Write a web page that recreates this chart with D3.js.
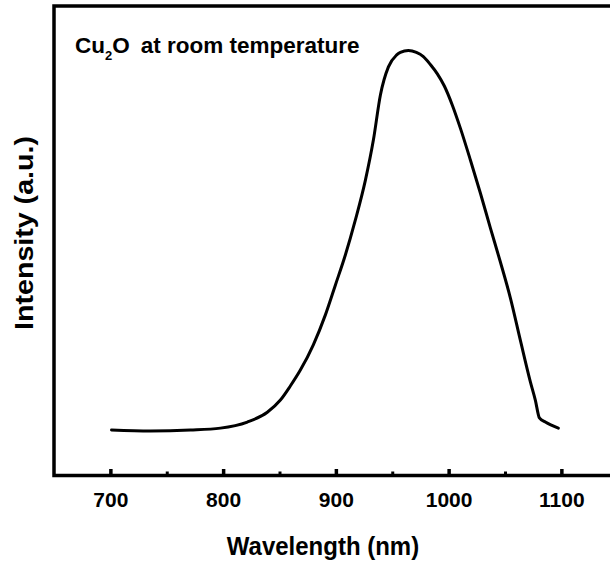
<!DOCTYPE html>
<html><head><meta charset="utf-8">
<script src="https://cdn.jsdelivr.net/npm/d3@7"></script>
<style>body{margin:0;background:#fff}svg{display:block}text{font-family:"Liberation Sans",Arial,sans-serif;font-weight:bold;fill:#000}</style>
</head><body><div id="c"></div>
<script>
const wavelength = [701,735.5,771,797.6,821.5,839.2,850.8,859.6,868.5,880,890.7,899.6,908.4,917.3,926.2,933.3,939.5,946.6,953.7,957.2,964.3,971.4,977.6,983.8,990,996.2,1003.3,1010.4,1019.3,1028.2,1037,1045.9,1054.8,1063.6,1072.5,1076.9,1080.5,1085.8,1097.3];
const intensity = [9.4,9.2,9.4,9.8,11.1,13.2,15.8,18.8,22.2,27.6,34.0,40.4,46.8,54.3,62.8,71.4,81.0,87.0,89.5,90.1,90.5,90.1,89.2,87.5,85.5,82.9,78.8,73.9,67.1,60.0,52.6,45.3,37.6,28.6,19.7,15.8,12.0,11.1,9.8];
const majorTicks = [700,800,900,1000,1100];
const minorTicks = [750,850,950,1050];
const xTitle = "Wavelength (nm)";
const yTitle = "Intensity (a.u.)";

const W=610,H=563;
const svg=d3.select("#c").append("svg").attr("width",W).attr("height",H);
const x=d3.scaleLinear().domain([650,1150]).range([54,617.75]);
const y=d3.scaleLinear().domain([0,100]).range([474,6]);
const plotTop=6,plotBottom=475.5;

// frame
svg.append("rect").attr("x",x.range()[0]).attr("y",plotTop).attr("width",x.range()[1]-x.range()[0]).attr("height",plotBottom-plotTop)
  .attr("fill","none").attr("stroke","#000").attr("stroke-width",3.5);

// bottom axis
const ax=svg.append("g").attr("transform",`translate(0,${plotBottom})`)
  .call(d3.axisBottom(x).tickValues(majorTicks).tickSize(-6.5).tickPadding(17).tickFormat(d3.format("d")));
ax.select(".domain").remove();
ax.selectAll(".tick line").attr("stroke","#000").attr("stroke-width",3.5);
ax.selectAll(".tick text").attr("font-size",21).attr("dy","0.71em").style("font-family",'"Liberation Sans",Arial,sans-serif').style("font-weight","bold").attr("fill","#000");
const axm=svg.append("g").attr("transform",`translate(0,${plotBottom})`)
  .call(d3.axisBottom(x).tickValues(minorTicks).tickSize(-4).tickFormat(""));
axm.select(".domain").remove();
axm.selectAll(".tick line").attr("stroke","#000").attr("stroke-width",3);

// curve
const line=d3.line().x((d,i)=>x(wavelength[i])).y((d,i)=>y(intensity[i])).curve(d3.curveMonotoneX);
svg.append("path").datum(wavelength).attr("d",line).attr("fill","none").attr("stroke","#000").attr("stroke-width",3).attr("stroke-linejoin","round").attr("stroke-linecap","round");

// titles
svg.append("text").attr("transform","translate(323,555) scale(1,1.1)").attr("text-anchor","middle").attr("font-size",24).text(xTitle);
svg.append("text").attr("transform","translate(33,233) rotate(-90) scale(1.1,1)").attr("text-anchor","middle").attr("font-size",26).text(yTitle);

// annotation
const ann=svg.append("text").attr("x",75).attr("y",53).attr("font-size",22.5);
ann.append("tspan").text("Cu");
ann.append("tspan").attr("font-size",13).attr("dy",7).text("2");
ann.append("tspan").attr("dy",-7).text("O");
ann.append("tspan").attr("dx",11).text("at room temperature");
</script></body></html>
